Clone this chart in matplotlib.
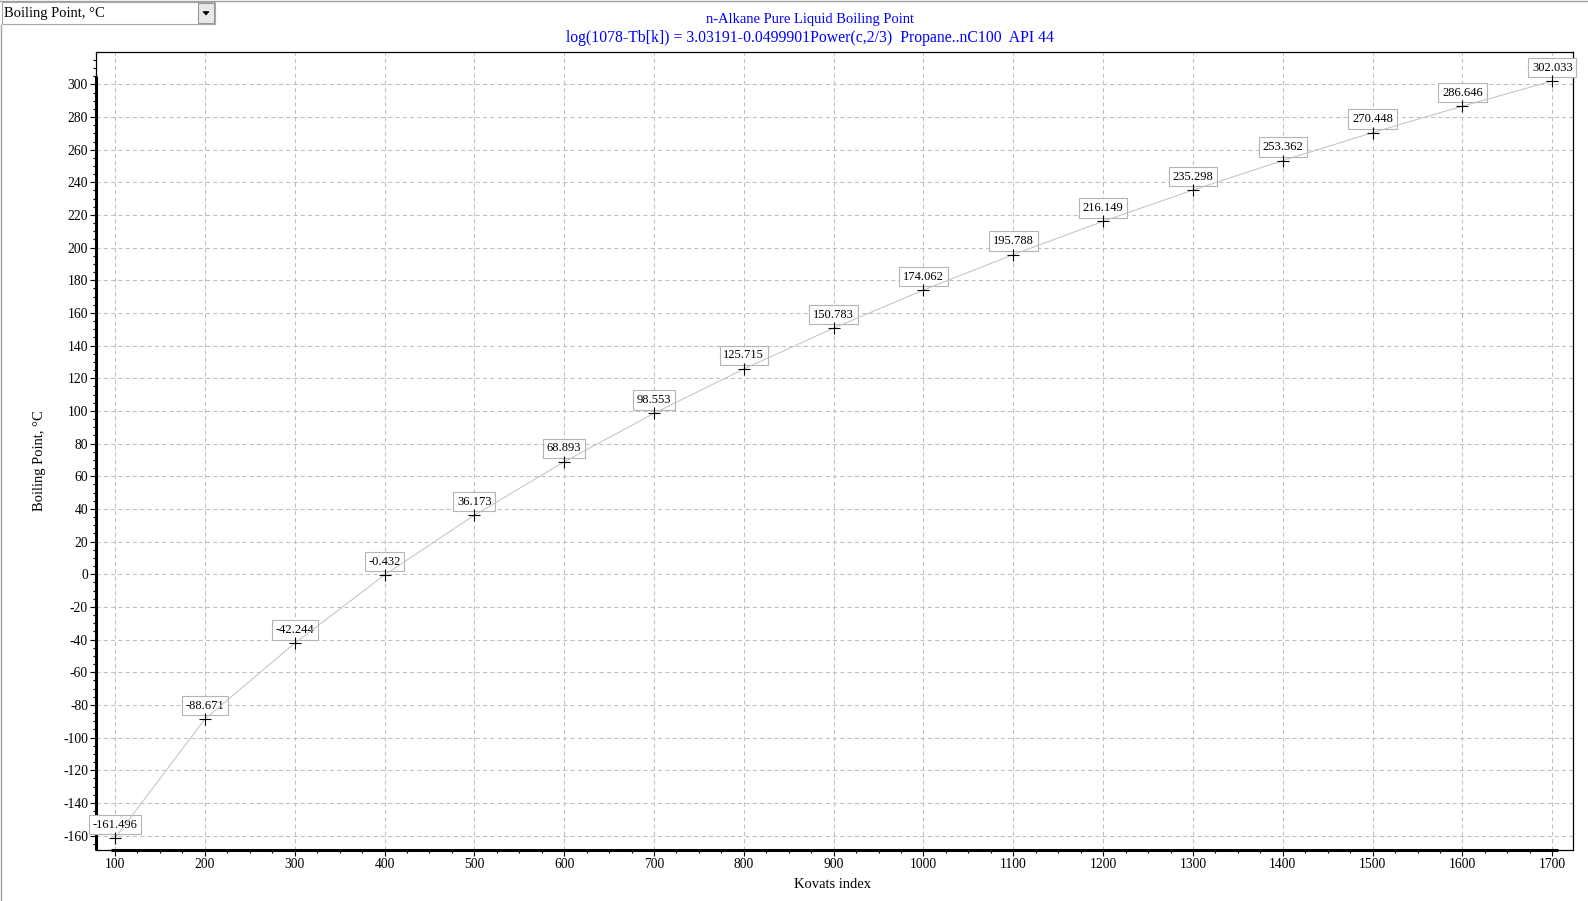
import numpy as np
import matplotlib
matplotlib.use('Agg')
from matplotlib import pyplot as plt
from matplotlib.patches import Rectangle, Polygon
from matplotlib.lines import Line2D
from matplotlib.ticker import MultipleLocator

plt.rcParams['font.family'] = ['Liberation Serif', 'DejaVu Serif']
plt.rcParams['axes.unicode_minus'] = False

# Kovats index vs boiling point
kovats = [100, 200, 300, 400, 500, 600, 700, 800, 900, 1000,
          1100, 1200, 1300, 1400, 1500, 1600, 1700]
boiling = [-161.496, -88.671, -42.244, -0.432, 36.173, 68.893, 98.553,
           125.715, 150.783, 174.062, 195.788, 216.149, 235.298,
           253.362, 270.448, 286.646, 302.033]
labels = ['%.3f' % v for v in boiling]

title1 = 'n-Alkane Pure Liquid Boiling Point'
title2 = 'log(1078-Tb[k]) = 3.03191-0.0499901Power(c,2/3)  Propane..nC100  API 44'
combo_text = 'Boiling Point, \u00b0C'

W, H = 1588, 901
fig = plt.figure(figsize=(W / 100, H / 100), dpi=100)
fig.patch.set_facecolor('white')


def fx(px):
    return px / W


def fy(py):
    return 1 - py / H


# axes placed by pixel frame
ax = fig.add_axes([fx(95.7), fy(850), fx(1572.7) - fx(95.7), fy(52) - fy(850)])
ax.set_xlim(78.5, 1722.7)
ax.set_ylim(-168.8, 319.8)

ax.xaxis.set_major_locator(MultipleLocator(100))
ax.xaxis.set_minor_locator(MultipleLocator(25))
ax.yaxis.set_major_locator(MultipleLocator(20))
ax.yaxis.set_minor_locator(MultipleLocator(5))
ax.tick_params(which='major', direction='out', length=4, width=0.8, labelsize=9.8, pad=1.5)
ax.tick_params(which='minor', direction='out', length=2.2, width=0.8)
ax.tick_params(axis='x', which='major', pad=2)

ax.grid(True, which='major', linestyle=(0, (4, 3)), color='#c0c0c0', linewidth=0.75)
ax.set_axisbelow(True)

for s in ax.spines.values():
    s.set_linewidth(0.9)
    s.set_color('black')

# thick axis lines
ax.plot([0, 0], [0, 0.9697], transform=ax.transAxes, color='black', lw=2.2,
        clip_on=False, solid_capstyle='butt', zorder=5)
ax.plot([0.0103, 0.9898], [0, 0], transform=ax.transAxes, color='black', lw=2.2,
        clip_on=False, solid_capstyle='butt', zorder=5)

ax.plot(kovats, boiling, color='#c0c0c0', linewidth=0.7, zorder=7)
ax.plot(kovats, boiling, linestyle='none', marker='+', color='black',
        markersize=8, markeredgewidth=0.8, zorder=8)

for x, y, lab in zip(kovats, boiling, labels):
    ax.annotate(lab, (x, y), xytext=(0, 13.5), textcoords='offset pixels',
                ha='center', va='center', fontsize=9, annotation_clip=False,
                bbox=dict(boxstyle='square,pad=0.3', facecolor='white',
                          edgecolor='#b4b4b4', linewidth=0.8),
                zorder=6)

# titles and axis labels
fig.text(fx(810), fy(19), title1, ha='center', va='center', color='#0000ff', fontsize=10.5)
fig.text(fx(810), fy(38), title2, ha='center', va='center', color='#0000ff', fontsize=11.3)
fig.text(fx(833), fy(884), 'Kovats index', ha='center', va='center', fontsize=10.5)
fig.text(fx(40), fy(461), 'Boiling Point, \u00b0C', ha='center', va='center',
         rotation=90, fontsize=10.5)

# window border
fig.add_artist(Line2D([0, 1], [fy(0.5), fy(0.5)], color='#a0a0a0', lw=1))
fig.add_artist(Line2D([fx(0.5), fx(0.5)], [fy(25), 0], color='#a0a0a0', lw=1))

# combo box at top-left
fig.add_artist(Rectangle((fx(2), fy(24)), fx(213), fy(2) - fy(24),
                         facecolor='white', edgecolor='#a8a8a8', lw=0.8))
fig.add_artist(Rectangle((fx(198), fy(23)), fx(16), fy(3) - fy(23),
                         facecolor='#e8e8e8', edgecolor='#9a9a9a', lw=0.8))
fig.add_artist(Polygon([[fx(203), fy(11.5)], [fx(209), fy(11.5)], [fx(206), fy(15)]],
                       closed=True, facecolor='black', edgecolor='black', lw=0.5))
fig.text(fx(4), fy(13), combo_text, ha='left', va='center', fontsize=10.5)

fig.savefig('out.png', dpi=100)
